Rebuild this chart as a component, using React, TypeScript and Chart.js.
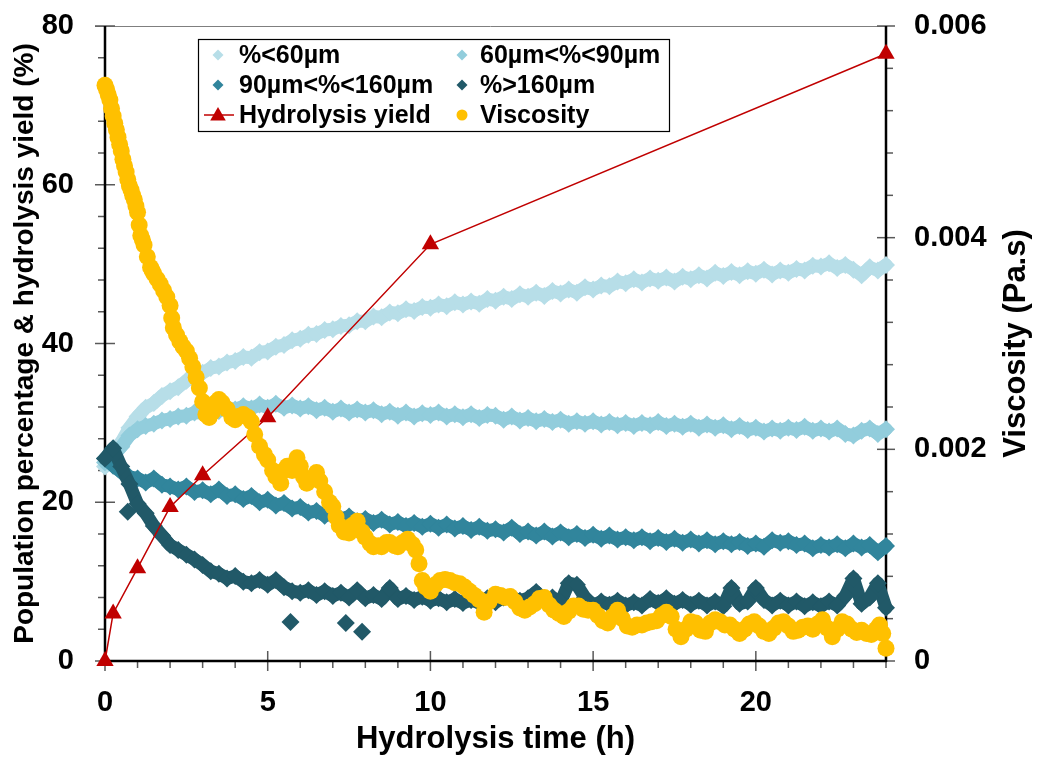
import React, { useEffect, useRef } from "react";
import { Chart, registerables } from "chart.js";

Chart.register(...registerables);

// ---------------- DATA ----------------
const PSD_TIME = [
  0, 0.25, 0.5, 0.75, 1, 1.25, 1.5, 1.75,
  2, 2.25, 2.5, 2.75, 3, 3.25, 3.5, 3.75,
  4, 4.25, 4.5, 4.75, 5, 5.25, 5.5, 5.75,
  6, 6.25, 6.5, 6.75, 7, 7.25, 7.5, 7.75,
  8, 8.25, 8.5, 8.75, 9, 9.25, 9.5, 9.75,
  10, 10.25, 10.5, 10.75, 11, 11.25, 11.5, 11.75,
  12, 12.25, 12.5, 12.75, 13, 13.25, 13.5, 13.75,
  14, 14.25, 14.5, 14.75, 15, 15.25, 15.5, 15.75,
  16, 16.25, 16.5, 16.75, 17, 17.25, 17.5, 17.75,
  18, 18.25, 18.5, 18.75, 19, 19.25, 19.5, 19.75,
  20, 20.25, 20.5, 20.75, 21, 21.25, 21.5, 21.75,
  22, 22.25, 22.5, 22.75, 23, 23.25, 23.5, 23.75,
  24,
];

const PCT_LT60 = [
  24.5, 25.8, 27.6, 29.4, 30.8, 31.9, 32.5, 33.4,
  34.0, 34.5, 35.3, 35.8, 36.3, 36.9, 37.1, 37.6,
  37.8, 38.3, 38.2, 38.9, 39.0, 39.6, 39.8, 40.4,
  40.6, 41.1, 41.2, 41.7, 41.8, 42.2, 42.3, 42.8,
  42.8, 43.4, 43.3, 43.9, 43.8, 44.3, 44.1, 44.6,
  44.5, 44.9, 44.7, 45.2, 44.9, 45.3, 45.0, 45.6,
  45.4, 45.9, 45.6, 46.2, 45.9, 46.4, 46.0, 46.6,
  46.3, 46.8, 46.4, 47.1, 46.8, 47.3, 47.2, 47.8,
  47.6, 48.1, 47.7, 48.2, 47.9, 48.3, 47.8, 48.4,
  48.1, 48.6, 48.2, 48.9, 48.5, 49.0, 48.6, 49.1,
  48.8, 49.3, 48.7, 49.2, 48.9, 49.4, 49.2, 49.8,
  49.7, 50.1, 49.5, 49.9, 49.3, 48.6, 49.6, 49.2,
  49.9,
];

const PCT_60_90 = [
  25.0, 25.8, 27.0, 28.4, 29.2, 29.6, 29.9, 30.3,
  30.5, 30.8, 30.9, 31.3, 31.2, 31.6, 31.5, 31.9,
  31.7, 32.1, 31.8, 32.3, 31.9, 32.4, 31.9, 32.2,
  31.8, 32.1, 31.6, 31.9, 31.4, 31.8, 31.3, 31.7,
  31.3, 31.6, 31.1, 31.4, 30.9, 31.3, 30.8, 31.2,
  31.0, 31.3, 30.8, 31.1, 30.7, 31.1, 30.6, 31.0,
  30.9, 30.4, 30.8, 30.3, 30.6, 30.2, 30.5, 30.1,
  30.4, 29.9, 30.2, 29.9, 30.2, 29.8, 30.1, 29.7,
  30.0, 29.6, 30.0, 29.7, 30.1, 29.6, 29.9, 29.5,
  29.9, 29.4, 29.8, 29.4, 29.7, 29.2, 29.6, 29.1,
  29.4, 28.9, 29.3, 29.0, 29.4, 29.1, 29.5, 29.0,
  29.3, 28.9, 29.3, 28.6, 28.4, 29.0, 29.3, 28.6,
  29.2,
];

const PCT_90_160 = [
  25.5, 24.6, 23.8, 23.2, 23.0, 22.5, 23.0, 22.2,
  22.0, 21.6, 22.0, 21.3, 21.5, 21.0, 21.6, 20.8,
  21.0, 20.4, 20.8, 20.0, 20.3, 19.6, 19.9, 19.2,
  19.4, 18.7, 18.9, 18.3, 18.5, 17.9, 18.2, 17.6,
  17.9, 17.4, 17.8, 17.2, 17.5, 17.0, 17.4, 16.9,
  17.3, 16.8, 17.2, 16.7, 17.0, 16.5, 16.9, 16.4,
  16.6, 16.2, 16.8, 16.0, 16.3, 15.8, 16.3, 15.7,
  16.2, 15.6, 16.0, 15.5, 15.9, 15.4, 15.8, 15.3,
  15.6, 15.2, 15.6, 15.1, 15.5, 15.0, 15.4, 14.9,
  15.3, 14.8, 15.2, 14.7, 15.1, 14.7, 15.0, 14.5,
  14.8, 14.4, 15.2, 14.9, 15.1, 14.6, 14.8, 14.2,
  14.6, 14.3, 14.7, 14.2, 14.8, 14.3, 14.6, 13.7,
  14.5,
];

const PCT_GT160 = [
  25.5, 26.8, 24.5, 22.3, 19.8, 18.6, 17.0, 15.8,
  14.6, 14.0, 13.4, 12.8, 12.1, 11.3, 11.0, 10.4,
  10.7, 10.0, 9.8, 10.2, 9.6, 10.2, 9.3, 8.8,
  8.6, 8.9, 8.3, 8.8, 8.2, 8.6, 8.0, 8.9,
  7.9, 8.3, 7.8, 9.2, 7.8, 8.2, 7.7, 8.1,
  7.6, 7.9, 7.4, 7.8, 7.3, 7.7, 7.3, 7.9,
  7.4, 8.0, 8.0, 7.6, 7.9, 8.7, 7.6, 8.0,
  7.4, 9.8, 9.6, 8.0, 7.0, 7.5, 7.1, 7.6,
  7.0, 7.4, 7.0, 7.8, 7.3, 7.9, 7.2, 7.7,
  7.1, 7.6, 7.0, 7.5, 6.9, 9.2, 7.2, 7.5,
  9.2, 7.7, 7.0, 7.6, 7.0, 7.5, 6.9, 7.4,
  6.9, 7.5, 7.0, 8.2, 10.4, 7.2, 8.0, 9.8,
  6.7,
];

const GT160_OUTLIER_TIME = [0.7, 5.7, 7.4, 7.9];
const GT160_OUTLIER_VALUE = [18.8, 4.9, 4.8, 3.7];

const YIELD_TIME = [0, 0.25, 1, 2, 3, 5, 10, 24];
const YIELD_VALUE = [0, 6.0, 11.7, 19.4, 23.4, 30.7, 52.5, 76.5];

const VISC_TIME = [
  0.0, 0.05, 0.1, 0.15, 0.2, 0.25, 0.3, 0.35, 0.4, 0.45,
  0.5, 0.55, 0.6, 0.65, 0.7, 0.75, 0.8, 0.85, 0.9, 0.95,
  1.0, 1.05, 1.1, 1.15, 1.2, 1.3, 1.4, 1.45, 1.5, 1.6,
  1.7, 1.8, 1.9, 2.0, 2.05, 2.1, 2.2, 2.3, 2.4, 2.5,
  2.6, 2.7, 2.8, 2.9, 3.0, 3.1, 3.2, 3.3, 3.4, 3.5,
  3.6, 3.75, 3.9, 4.0, 4.1, 4.25, 4.4, 4.5, 4.6, 4.75,
  4.9, 5.0, 5.15, 5.25, 5.4, 5.5, 5.6, 5.75, 5.9, 6.0,
  6.1, 6.2, 6.35, 6.5, 6.6, 6.75, 6.9, 7.0, 7.1, 7.2,
  7.35, 7.5, 7.6, 7.75, 7.9, 8.0, 8.15, 8.25, 8.4, 8.5,
  8.65, 8.75, 8.9, 9.0, 9.15, 9.3, 9.45, 9.55, 9.65, 9.75,
  9.85, 10.0, 10.15, 10.3, 10.45, 10.6, 10.75, 10.9, 11.05, 11.2,
  11.35, 11.5, 11.65, 11.8, 12.0, 12.15, 12.3, 12.45, 12.6, 12.75,
  12.9, 13.05, 13.2, 13.35, 13.5, 13.65, 13.8, 13.95, 14.1, 14.25,
  14.4, 14.55, 14.7, 14.85, 15.0, 15.15, 15.3, 15.45, 15.6, 15.75,
  15.9, 16.05, 16.2, 16.35, 16.5, 16.65, 16.8, 16.95, 17.1, 17.25,
  17.4, 17.55, 17.7, 17.85, 18.0, 18.15, 18.3, 18.45, 18.6, 18.75,
  18.9, 19.05, 19.2, 19.35, 19.5, 19.65, 19.8, 19.95, 20.1, 20.25,
  20.4, 20.55, 20.7, 20.85, 21.0, 21.15, 21.3, 21.45, 21.6, 21.75,
  21.9, 22.05, 22.2, 22.35, 22.5, 22.65, 22.8, 22.95, 23.1, 23.25,
  23.4, 23.55, 23.7, 23.8, 23.9, 24.0,
];

const VISC_VALUE = [
  0.00544, 0.0054, 0.00535, 0.0053, 0.00522, 0.00515, 0.00508, 0.00502, 0.00495, 0.00488,
  0.00482, 0.00474, 0.00468, 0.00462, 0.00455, 0.00449, 0.00445, 0.0044, 0.00436, 0.0043,
  0.00424, 0.00412, 0.00402, 0.00398, 0.00393, 0.00382, 0.00372, 0.00369, 0.00366, 0.00361,
  0.00356, 0.0035, 0.00344, 0.00336, 0.00324, 0.00315, 0.00308, 0.00302, 0.00297, 0.00293,
  0.00286, 0.00278, 0.00268, 0.00258, 0.00245, 0.00233, 0.0023, 0.00235, 0.00244, 0.00247,
  0.00244, 0.00238, 0.0023, 0.00228, 0.00231, 0.00233, 0.0023, 0.00226, 0.00214, 0.00203,
  0.00195, 0.0019, 0.0018, 0.00174, 0.00168, 0.0018, 0.00184, 0.0018, 0.00192, 0.00184,
  0.00174, 0.00168, 0.00172, 0.00178, 0.0017, 0.0016, 0.0015, 0.00146, 0.00136, 0.00128,
  0.00122, 0.00121, 0.00128, 0.00132, 0.00122, 0.00117, 0.00111, 0.00108, 0.00109, 0.00108,
  0.00112, 0.00112, 0.00109, 0.00108, 0.00112, 0.00115, 0.0011, 0.00105, 0.00092, 0.00076,
  0.0007, 0.00066, 0.00072, 0.00076, 0.00077, 0.00076, 0.00074, 0.00073, 0.0007, 0.00066,
  0.00062, 0.00058, 0.00046, 0.00056, 0.00063, 0.00062, 0.0006, 0.00061, 0.00056, 0.0005,
  0.00048, 0.00051, 0.00054, 0.00059, 0.0006, 0.00053, 0.00048, 0.00045, 0.00042, 0.00047,
  0.00052, 0.00052, 0.00049, 0.00048, 0.00048, 0.00043, 0.00038, 0.00036, 0.00042, 0.00048,
  0.0004, 0.00033, 0.00032, 0.00034, 0.00034, 0.00036, 0.00037, 0.00038, 0.00043, 0.00046,
  0.00042, 0.0003, 0.00023, 0.0003, 0.00037, 0.00036, 0.00029, 0.00028, 0.00036, 0.00039,
  0.00037, 0.00034, 0.00034, 0.0003, 0.00026, 0.0003, 0.00035, 0.00037, 0.00033, 0.00028,
  0.00026, 0.00031, 0.00036, 0.00037, 0.00033, 0.00028, 0.00029, 0.00032, 0.00033, 0.0003,
  0.00035, 0.00039, 0.00031, 0.00023, 0.0003, 0.00037, 0.00035, 0.0003, 0.00027, 0.00029,
  0.00026, 0.00025, 0.0003, 0.00034, 0.00026, 0.00012,
];

const SERIES_LABELS = [
  "%<60µm",
  "60µm<%<90µm",
  "90µm<%<160µm",
  "%>160µm",
  "Hydrolysis yield",
  "Viscosity",
];

const X_TICKS = [0, 5, 10, 15, 20];
const Y_LEFT_TICKS = [0, 20, 40, 60, 80];
const Y_RIGHT_TICKS = [0, 0.002, 0.004, 0.006];
const Y_RIGHT_TICK_LABELS = ["0", "0.002", "0.004", "0.006"];

const X_TITLE = "Hydrolysis time (h)";
const Y_LEFT_TITLE = "Population percentage & hydrolysis yield (%)";
const Y_RIGHT_TITLE = "Viscosity (Pa.s)";

// ---------------- STYLE ----------------
const FONT_FAMILY = "'Liberation Sans', Arial, Helvetica, sans-serif";
const COLORS = ["#b7dee8", "#92cddc", "#31859c", "#215968", "#c00000", "#ffc000"];

const pts = (xs: number[], ys: number[]) => xs.map((x, i) => ({ x, y: ys[i] }));

function drawMarker(ctx: CanvasRenderingContext2D, style: string, x: number, y: number, r: number, color: string) {
  ctx.fillStyle = color;
  ctx.beginPath();
  if (style === "rectRot") {
    ctx.moveTo(x - r, y);
    ctx.lineTo(x, y - r);
    ctx.lineTo(x + r, y);
    ctx.lineTo(x, y + r);
    ctx.closePath();
  } else if (style === "triangle") {
    const h = r * 1.5;
    const w = r * Math.sqrt(3);
    ctx.moveTo(x - w / 2, y + h / 3);
    ctx.lineTo(x + w / 2, y + h / 3);
    ctx.lineTo(x, y - (2 * h) / 3);
    ctx.closePath();
  } else {
    ctx.arc(x, y, r, 0, Math.PI * 2);
  }
  ctx.fill();
}

const framePlugin = {
  id: "frame",
  beforeDatasetsDraw(chart: any) {
    const { ctx, chartArea: a, scales } = chart;
    const sx = scales.x;
    const sy = scales.y;
    const sy2 = scales.y2;
    ctx.save();
    const seg = (x1: number, y1: number, x2: number, y2: number) => {
      ctx.beginPath();
      ctx.moveTo(x1, y1);
      ctx.lineTo(x2, y2);
      ctx.stroke();
    };
    // top border
    ctx.strokeStyle = "#7f7f7f";
    ctx.lineWidth = 1;
    seg(a.left - 10, a.top + 0.5, a.right, a.top + 0.5);

    ctx.strokeStyle = "#595959";
    ctx.lineWidth = 1.5;
    // left minor (every 4) and major
    for (let i = 0; i <= 20; i++) {
      const py = sy.getPixelForValue(i * 4);
      if (i % 5 === 0) seg(a.left - 10, py, a.left + 10, py);
      else seg(a.left - 7, py, a.left, py);
    }
    // right minor (every 0.0004) and major
    for (let i = 0; i <= 15; i++) {
      const py = sy2.getPixelForValue(i * 0.0004);
      if (i % 5 === 0) seg(a.right - 9, py, a.right + 9, py);
      else seg(a.right, py, a.right + 7, py);
    }
    // x minor (every 1) and major
    for (let i = 0; i <= 24; i++) {
      const px = sx.getPixelForValue(i);
      if (i % 5 === 0) seg(px, a.bottom - 10, px, a.bottom + 10);
      else seg(px, a.bottom, px, a.bottom + 7);
    }
    // axis lines
    ctx.strokeStyle = "#000";
    ctx.lineWidth = 2.5;
    seg(a.left, a.top, a.left, a.bottom + 1);
    seg(a.left - 1, a.bottom, a.right + 1, a.bottom);
    seg(a.right, a.top, a.right, a.bottom + 1);
    ctx.restore();
  },
  afterDraw(chart: any) {
    const { ctx, chartArea: a } = chart;
    ctx.save();
    ctx.fillStyle = "#000";
    // x title
    ctx.font = `bold 31px ${FONT_FAMILY}`;
    ctx.textAlign = "center";
    ctx.textBaseline = "alphabetic";
    ctx.fillText(X_TITLE, (a.left + a.right) / 2, a.bottom + 87);
    // left title
    ctx.save();
    ctx.font = `bold 28px ${FONT_FAMILY}`;
    ctx.translate(a.left - 72, (a.top + a.bottom) / 2);
    ctx.rotate(-Math.PI / 2);
    ctx.fillText(Y_LEFT_TITLE, 0, 0);
    ctx.restore();
    // right title
    ctx.save();
    ctx.font = `bold 31px ${FONT_FAMILY}`;
    ctx.translate(a.right + 139, (a.top + a.bottom) / 2);
    ctx.rotate(-Math.PI / 2);
    ctx.fillText(Y_RIGHT_TITLE, 0, 0);
    ctx.restore();

    // legend
    const bx = a.left + 93;
    const by = a.top + 13;
    const bw = 471;
    const bh = 92;
    ctx.fillStyle = "#fff";
    ctx.fillRect(bx, by, bw, bh);
    ctx.strokeStyle = "#000";
    ctx.lineWidth = 1.2;
    ctx.strokeRect(bx + 0.5, by + 0.5, bw, bh);
    const colMarker = [bx + 20, bx + 264];
    const colText = [bx + 41, bx + 282];
    const rowY = [by + 16, by + 46, by + 76];
    ctx.font = `bold 25px ${FONT_FAMILY}`;
    ctx.textAlign = "left";
    ctx.textBaseline = "middle";
    const items = chart.data.datasets.filter((ds: any) => !ds.legendSkip);
    items.forEach((ds: any, i: number) => {
      const row = Math.floor(i / 2);
      const col = i % 2;
      const mx = colMarker[col];
      const my = rowY[row];
      if (ds.legendLine) {
        ctx.strokeStyle = ds.borderColor;
        ctx.lineWidth = 1.5;
        ctx.beginPath();
        ctx.moveTo(mx - 14, my);
        ctx.lineTo(mx + 16, my);
        ctx.stroke();
        drawMarker(ctx, ds.pointStyle, mx, my + 1, 9, ds.pointBackgroundColor);
      } else {
        drawMarker(ctx, ds.pointStyle, mx, my, 5.5, ds.pointBackgroundColor);
      }
      ctx.fillStyle = "#000";
      ctx.fillText(ds.label, colText[col], my + 1);
    });
    ctx.restore();
  },
};

const zeroVerticalPadding = (s: any) => {
  s.paddingTop = 0;
  s.paddingBottom = 0;
};

export default function App() {
  const ref = useRef<HTMLCanvasElement>(null);
  useEffect(() => {
    document.body.style.margin = "0";
    const tickFont = { family: FONT_FAMILY, size: 29, weight: "bold" as const };
    const diamond = (i: number, data: any[], order: number, band: boolean, legendSkip = false) => ({
      label: SERIES_LABELS[i],
      data,
      yAxisID: "y",
      showLine: band,
      borderWidth: 13,
      borderJoinStyle: "round",
      borderCapStyle: "round",
      tension: 0,
      pointStyle: "rectRot",
      pointRadius: 9,
      pointBorderWidth: 0,
      pointBackgroundColor: COLORS[i],
      backgroundColor: COLORS[i],
      borderColor: COLORS[i],
      order,
      legendSkip,
    });
    const chart = new Chart(ref.current as HTMLCanvasElement, {
      type: "scatter",
      data: {
        datasets: [
          diamond(0, pts(PSD_TIME, PCT_LT60), 6, true),
          diamond(1, pts(PSD_TIME, PCT_60_90), 5, true),
          diamond(2, pts(PSD_TIME, PCT_90_160), 4, true),
          diamond(3, pts(PSD_TIME, PCT_GT160), 3, true),
          {
            label: SERIES_LABELS[4],
            data: pts(YIELD_TIME, YIELD_VALUE),
            yAxisID: "y",
            showLine: true,
            legendLine: true,
            borderColor: COLORS[4],
            borderWidth: 1.5,
            pointStyle: "triangle",
            pointRadius: 10,
            pointBorderWidth: 0,
            pointBackgroundColor: COLORS[4],
            backgroundColor: COLORS[4],
            tension: 0,
            order: 1,
          },
          {
            label: SERIES_LABELS[5],
            data: pts(VISC_TIME, VISC_VALUE),
            yAxisID: "y2",
            showLine: false,
            pointStyle: "circle",
            pointRadius: 8.5,
            pointBorderWidth: 0,
            pointBackgroundColor: COLORS[5],
            backgroundColor: COLORS[5],
            borderColor: COLORS[5],
            order: 0,
          },
          diamond(3, pts(GT160_OUTLIER_TIME, GT160_OUTLIER_VALUE), 2, false, true),
        ] as any,
      },
      options: {
        animation: false,
        responsive: true,
        maintainAspectRatio: false,
        events: [],
        clip: false as any,
        layout: { padding: { top: 26, left: 0, right: 0, bottom: 0 } },
        plugins: { legend: { display: false }, tooltip: { enabled: false } },
        scales: {
          x: {
            type: "linear",
            position: "bottom",
            min: 0,
            max: 24,
            grid: { display: false },
            border: { display: false },
            afterBuildTicks: (s: any) => {
              s.ticks = X_TICKS.map((v) => ({ value: v }));
            },
            afterFit: (s: any) => {
              s.height = 102;
              s.paddingLeft = 0;
              s.paddingRight = 0;
            },
            ticks: { font: tickFont, color: "#000", padding: 17, maxRotation: 0, autoSkip: false, callback: (v: any) => String(v) },
          },
          y: {
            type: "linear",
            position: "left",
            min: 0,
            max: 80,
            grid: { display: false },
            border: { display: false },
            afterBuildTicks: (s: any) => {
              s.ticks = Y_LEFT_TICKS.map((v) => ({ value: v }));
            },
            afterFit: (s: any) => {
              s.width = 105;
              zeroVerticalPadding(s);
            },
            ticks: { font: tickFont, color: "#000", padding: 23, autoSkip: false, callback: (v: any) => String(v) },
          },
          y2: {
            type: "linear",
            position: "right",
            min: 0,
            max: 0.006,
            grid: { display: false },
            border: { display: false },
            afterBuildTicks: (s: any) => {
              s.ticks = Y_RIGHT_TICKS.map((v) => ({ value: v }));
            },
            afterFit: (s: any) => {
              s.width = 152;
              zeroVerticalPadding(s);
            },
            ticks: {
              font: tickFont,
              color: "#000",
              padding: 20,
              autoSkip: false,
              callback: (_v: any, idx: number) => Y_RIGHT_TICK_LABELS[idx],
            },
          },
        },
      } as any,
      plugins: [framePlugin],
    });
    return () => chart.destroy();
  }, []);
  return (
    <div style={{ width: 1038, height: 763, position: "relative" }}>
      <canvas ref={ref} />
    </div>
  );
}
